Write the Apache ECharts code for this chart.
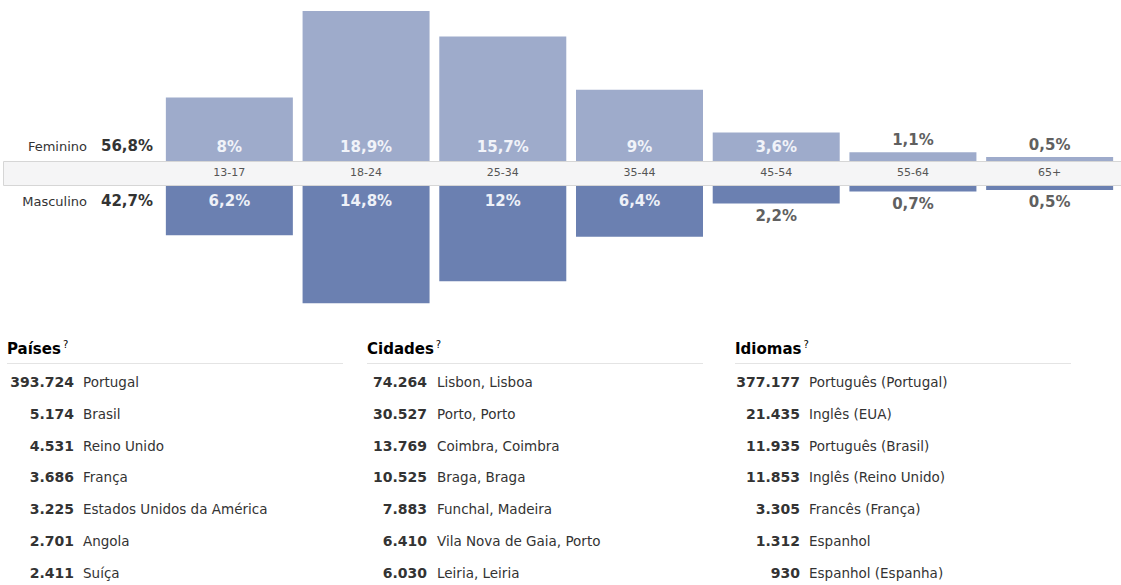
<!DOCTYPE html>
<html>
<head>
<meta charset="utf-8">
<script src="https://cdn.jsdelivr.net/npm/echarts@6/dist/echarts.min.js"></script>
<style>
  html, body { margin: 0; padding: 0; background: #ffffff; }
  #chart { width: 1121px; height: 585px; }
</style>
</head>
<body>
<div id="chart"></div>
<script>
// Age / gender breakdown
const ageGroups = ['13-17', '18-24', '25-34', '35-44', '45-54', '55-64', '65+'];
const femaleShare = [8, 18.9, 15.7, 9, 3.6, 1.1, 0.5];
const maleShare = [6.2, 14.8, 12, 6.4, 2.2, 0.7, 0.5];
const genderNames = ['Feminino', 'Masculino'];
const genderTotals = [56.8, 42.7];

// Top lists
const countryNames = ['Portugal', 'Brasil', 'Reino Unido', 'França', 'Estados Unidos da América', 'Angola', 'Suíça'];
const countryCounts = [393724, 5174, 4531, 3686, 3225, 2701, 2411];
const cityNames = ['Lisbon, Lisboa', 'Porto, Porto', 'Coimbra, Coimbra', 'Braga, Braga', 'Funchal, Madeira', 'Vila Nova de Gaia, Porto', 'Leiria, Leiria'];
const cityCounts = [74264, 30527, 13769, 10525, 7883, 6410, 6030];
const languageNames = ['Português (Portugal)', 'Inglês (EUA)', 'Português (Brasil)', 'Inglês (Reino Unido)', 'Francês (França)', 'Espanhol', 'Espanhol (Espanha)'];
const languageCounts = [377177, 21435, 11935, 11853, 3305, 1312, 930];
const listTitles = ['Países', 'Cidades', 'Idiomas'];

const FONT = '"DejaVu Sans", Verdana, sans-serif';
const TEXT = '#333333';

function pct(v) {
  return String(v).replace('.', ',') + '%';
}
function thousands(n) {
  return String(n).replace(/\B(?=(\d{3})+(?!\d))/g, '.');
}

// Short bars get their value printed outside the bar
const INSIDE_MIN = 2.5;
function barItems(values, insidePos, outsidePos, insideColor) {
  return values.map(v => {
    const inside = v >= INSIDE_MIN;
    return {
      value: v,
      label: {
        position: inside ? insidePos : outsidePos,
        distance: inside ? 7 : 5,
        color: inside ? insideColor : '#606060'
      }
    };
  });
}

const PX_PER_PCT = 7.93;
const GRID_LEFT = 161;
const GRID_WIDTH = 957;
const FEMALE_BASE = 161;
const MALE_BASE = 186;
const FEMALE_MAX = 20;
const MALE_MAX = 15;

const barLabel = {
  show: true,
  fontFamily: FONT,
  fontSize: 15,
  fontWeight: 'bold',
  formatter: p => pct(p.value)
};

// Graphic elements: category band, gender totals, lists
const graphics = [];
graphics.push({
  type: 'rect',
  z: -10,
  shape: { x: 3.5, y: FEMALE_BASE + 0.5, width: 1120, height: MALE_BASE - FEMALE_BASE - 1 },
  style: { fill: '#f5f5f6', stroke: '#d6d6d6', lineWidth: 1 }
});

const genderY = [146, 201];
genderNames.forEach((name, i) => {
  graphics.push({
    type: 'text', x: 87, y: genderY[i],
    style: { text: name, fill: TEXT, font: '13px ' + FONT, textAlign: 'right', textVerticalAlign: 'middle' }
  });
  graphics.push({
    type: 'text', x: 153, y: genderY[i],
    style: { text: pct(genderTotals[i]), fill: TEXT, font: 'bold 15px ' + FONT, textAlign: 'right', textVerticalAlign: 'middle' }
  });
});

const lists = [
  { names: countryNames, counts: countryCounts, x: 7, numRight: 74, nameX: 83 },
  { names: cityNames, counts: cityCounts, x: 367, numRight: 427, nameX: 437 },
  { names: languageNames, counts: languageCounts, x: 735, numRight: 800, nameX: 809 }
];
const TITLE_Y = 349;
const RULE_Y = 363.5;
const ROW0_Y = 382;
const ROW_STEP = 31.8;

lists.forEach((col, c) => {
  graphics.push({
    type: 'text', x: col.x, y: TITLE_Y,
    style: {
      text: '{t|' + listTitles[c] + '}{q|?}',
      textVerticalAlign: 'middle',
      rich: {
        t: { fontFamily: FONT, fontSize: 15, fontWeight: 'bold', color: TEXT },
        q: { fontFamily: FONT, fontSize: 10, color: '#c4c4c4', padding: [0, 0, 9, 2] }
      }
    }
  });
  graphics.push({
    type: 'line',
    shape: { x1: col.x, y1: RULE_Y, x2: col.x + 336, y2: RULE_Y },
    style: { stroke: '#e4e4e4', lineWidth: 1 }
  });
  col.names.forEach((name, r) => {
    const y = ROW0_Y + r * ROW_STEP;
    graphics.push({
      type: 'text', x: col.numRight, y: y,
      style: { text: thousands(col.counts[r]), fill: TEXT, font: 'bold 14px ' + FONT, textAlign: 'right', textVerticalAlign: 'middle' }
    });
    graphics.push({
      type: 'text', x: col.nameX, y: y,
      style: { text: name, fill: TEXT, font: '13.5px ' + FONT, textAlign: 'left', textVerticalAlign: 'middle' }
    });
  });
});

const chart = echarts.init(document.getElementById('chart'), null, { renderer: 'svg' });
chart.setOption({
  animation: false,
  backgroundColor: '#ffffff',
  grid: [
    { left: GRID_LEFT, width: GRID_WIDTH, top: FEMALE_BASE - FEMALE_MAX * PX_PER_PCT, height: FEMALE_MAX * PX_PER_PCT },
    { left: GRID_LEFT, width: GRID_WIDTH, top: MALE_BASE, height: MALE_MAX * PX_PER_PCT }
  ],
  xAxis: [
    {
      type: 'category', gridIndex: 0, data: ageGroups,
      axisLine: { show: false }, axisTick: { show: false },
      axisLabel: { margin: 6, color: '#555555', fontFamily: FONT, fontSize: 11 }
    },
    {
      type: 'category', gridIndex: 1, data: ageGroups, show: false
    }
  ],
  yAxis: [
    { type: 'value', gridIndex: 0, min: 0, max: FEMALE_MAX, show: false, splitLine: { show: false } },
    { type: 'value', gridIndex: 1, min: 0, max: MALE_MAX, inverse: true, show: false, splitLine: { show: false } }
  ],
  series: [
    {
      name: genderNames[0], type: 'bar', xAxisIndex: 0, yAxisIndex: 0,
      barWidth: 127,
      itemStyle: { color: '#9eabcb' },
      label: barLabel,
      data: barItems(femaleShare, 'insideBottom', 'top', '#f1f3f9')
    },
    {
      name: genderNames[1], type: 'bar', xAxisIndex: 1, yAxisIndex: 1,
      barWidth: 127,
      itemStyle: { color: '#6b80b1' },
      label: barLabel,
      data: barItems(maleShare, 'insideTop', 'bottom', '#eef1f8')
    }
  ],
  graphic: { elements: graphics }
});
</script>
</body>
</html>
